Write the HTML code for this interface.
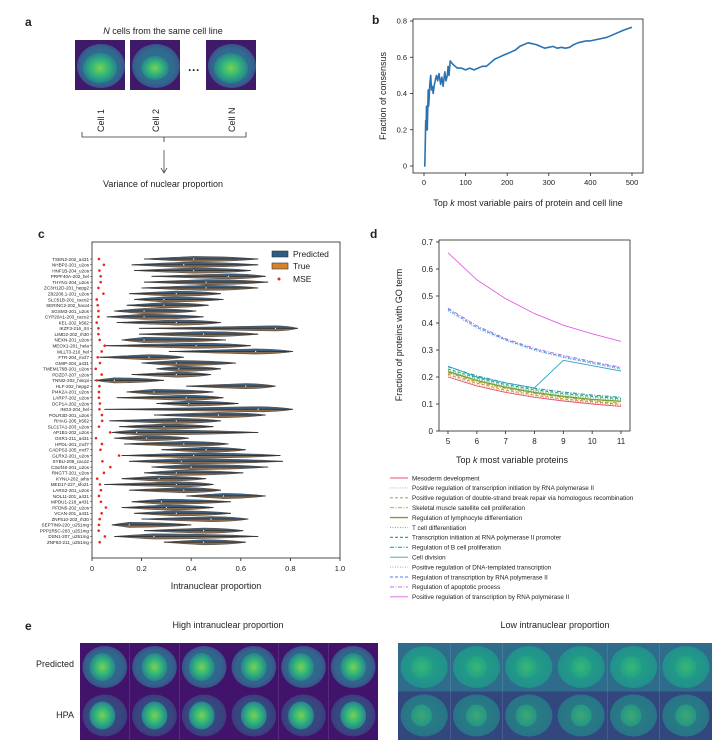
<!DOCTYPE html>
<html><head><meta charset="utf-8"><style>
body{margin:0;background:#fff;width:728px;height:745px;overflow:hidden;font-family:"Liberation Sans",sans-serif;}
svg{position:absolute;left:0;top:0}
text{font-family:"Liberation Sans",sans-serif;fill:#222}
</style></head><body>
<svg id="s" width="728" height="745" viewBox="0 0 728 745">
<defs>
<radialGradient id="nucH" cx="50%" cy="50%" r="50%"><stop offset="0" stop-color="#7ad151"/><stop offset="0.5" stop-color="#35b779"/><stop offset="1" stop-color="#26828e"/></radialGradient>
<radialGradient id="cytH" cx="50%" cy="50%" r="50%"><stop offset="0" stop-color="#2a788e"/><stop offset="0.8" stop-color="#31688e"/><stop offset="1" stop-color="#3b528b"/></radialGradient>
<radialGradient id="nucL" cx="50%" cy="50%" r="50%"><stop offset="0" stop-color="#4ac16d"/><stop offset="1" stop-color="#22a884"/></radialGradient>
<radialGradient id="cytL" cx="50%" cy="50%" r="50%"><stop offset="0" stop-color="#22a884"/><stop offset="1" stop-color="#21918c"/></radialGradient>
</defs>
<g id="pa"></g>
<g id="pb"></g>
<g id="pc"></g>
<g id="pd"></g>
<g id="pe"></g>
</svg>
<script>
// ---------- data ----------
const bK=[0,2,3,4,5,6,7,8,10,11,12,14,16,18,20,22,25,28,30,33,36,40,43,46,50,53,56,58,60,63,66,70,75,80,90,100,110,120,130,140,150,160,170,180,190,200,210,220,230,240,250,260,270,280,290,300,310,320,330,340,350,360,370,380,390,400,420,440,460,480,500];
const bV=[0,0,0.1,0.25,0.2,0.33,0.25,0.2,0.42,0.33,0.36,0.45,0.5,0.42,0.44,0.40,0.45,0.48,0.5,0.47,0.51,0.45,0.49,0.44,0.52,0.47,0.5,0.55,0.5,0.58,0.57,0.56,0.55,0.54,0.54,0.53,0.54,0.53,0.54,0.55,0.55,0.57,0.59,0.6,0.61,0.62,0.63,0.64,0.66,0.67,0.68,0.675,0.67,0.66,0.65,0.655,0.66,0.65,0.655,0.65,0.655,0.67,0.68,0.685,0.69,0.69,0.70,0.71,0.73,0.75,0.765];

const cLabels=["TSEN2-202_a431","NHBP2-201_u2os","HNF1B-204_u2os","PRPF40A-202_hel","THYN1-204_u2os","ZC3H12D-201_hepg2","Z82206.1-201_u2os","SLC51B-201_caco2","SERINC2-202_hacat","SGSM3-201_u2os","CYP20A1-203_caco2","KEL-202_k562","IKZF3-216_rt4","LIMD2-202_rh30","NEXN-201_u2os","MEOX1-201_hela","MLLT3-210_hel","FTR-204_mcf7","GMIP-204_a431","TMEM176B-201_u2os","PDZD7-207_u2os","TNNI2-202_hiscpi","HLF-202_hepg2","PI4K2A-201_u2os","LARP7-202_u2os","DCP1A-202_u2os","ING3-204_hel","POLR3D-201_u2os","RHAG-205_k562","SLC17A1-203_u2os","AP1B1-202_u2os","OXR1-211_a431","HPDL-201_mcf7","CADPS2-205_mcf7","GLRX2-201_u2os","SYBU-209_caco2","C3orf40-201_u2os","RNGTT-201_u2os","KYNU-202_aihs","MED17-227_sfo21","LARS2-201_u2os","NOL11-201_a431","MPDU1-218_a431","PFDN5-202_u2os","VCAN-201_a431","ZNF510-203_rh30","SEPTIN9-220_u251mg","PPP2R5C-203_u251mg","DSN1-207_u251mg","ZNF83-211_u251mg"];
const cLo=[0.21,0.16,0.17,0.24,0.21,0.2,0.15,0.17,0.14,0.09,0.06,0.1,0.19,0.19,0.12,0.05,0.31,0.03,0.2,0.26,0.16,0.01,0.38,0.14,0.1,0.26,0.05,0.25,0.07,0.11,0.08,0.09,0.13,0.28,0.12,0.15,0.24,0.21,0.12,0.05,0.15,0.38,0.16,0.12,0.17,0.2,0.08,0.21,0.09,0.29];
const cHi=[0.67,0.67,0.64,0.70,0.71,0.67,0.52,0.53,0.47,0.42,0.45,0.52,0.83,0.67,0.54,0.64,0.81,0.37,0.58,0.52,0.48,0.29,0.74,0.49,0.53,0.59,0.81,0.70,0.52,0.49,0.67,0.39,0.55,0.62,0.76,0.77,0.71,0.61,0.46,0.49,0.52,0.70,0.56,0.49,0.56,0.63,0.40,0.61,0.67,0.62];
const cMed=[0.41,0.37,0.41,0.55,0.46,0.46,0.34,0.29,0.29,0.21,0.21,0.34,0.74,0.45,0.21,0.42,0.66,0.23,0.34,0.35,0.34,0.09,0.62,0.25,0.38,0.39,0.67,0.51,0.34,0.29,0.18,0.22,0.37,0.46,0.41,0.36,0.40,0.34,0.27,0.34,0.37,0.53,0.28,0.30,0.34,0.48,0.15,0.45,0.25,0.45];
const cMse=[0.028,0.048,0.03,0.035,0.035,0.026,0.046,0.019,0.023,0.026,0.026,0.019,0.026,0.026,0.031,0.051,0.039,0.023,0.032,0.015,0.039,0.019,0.03,0.028,0.028,0.032,0.03,0.04,0.041,0.028,0.073,0.016,0.04,0.034,0.109,0.042,0.074,0.048,0.021,0.032,0.036,0.028,0.036,0.056,0.039,0.031,0.028,0.027,0.052,0.031];

const dK=[5,6,7,8,9,10,11];
const dNames=["Mesoderm development","Positive regulation of transcription initiation by RNA polymerase II","Positive regulation of double-strand break repair via homologous recombination","Skeletal muscle satellite cell proliferation","Regulation of lymphocyte differentiation","T cell differentiation","Transcription initiation at RNA polymerase II promoter","Regulation of B cell proliferation","Cell division","Positive regulation of DNA-templated transcription","Regulation of transcription by RNA polymerase II","Regulation of apoptotic process","Positive regulation of transcription by RNA polymerase II"];
const dS0=[0.20,0.167,0.143,0.125,0.111,0.10,0.091];
const dS1=[0.205,0.172,0.147,0.129,0.115,0.104,0.095];
const dS2=[0.21,0.177,0.152,0.133,0.119,0.108,0.099];
const dS3=[0.215,0.182,0.157,0.138,0.124,0.112,0.103];
const dS4=[0.22,0.187,0.162,0.143,0.128,0.117,0.11];
const dS5=[0.225,0.192,0.167,0.148,0.134,0.123,0.115];
const dS6=[0.23,0.197,0.172,0.153,0.139,0.128,0.12];
const dS7=[0.238,0.204,0.178,0.158,0.144,0.133,0.125];
const dS8=[0.24,0.2,0.178,0.16,0.262,0.242,0.222];
const dS9=[0.445,0.38,0.335,0.298,0.272,0.25,0.228];
const dS10=[0.45,0.385,0.338,0.302,0.275,0.253,0.232];
const dS11=[0.455,0.39,0.342,0.306,0.28,0.257,0.236];
const dS12=[0.66,0.56,0.49,0.435,0.392,0.36,0.332];

// ---------- helpers ----------
const NS="http://www.w3.org/2000/svg";
function mk(tag,attrs,parent,txt){const e=document.createElementNS(NS,tag);for(const k in attrs)e.setAttribute(k,attrs[k]);if(txt!==undefined)e.textContent=txt;parent.appendChild(e);return e;}
const G=id=>document.getElementById(id);

// ---------- panel a ----------
(function(){
const g=G('pa');
let t=mk('text',{x:25,y:26,'font-size':12,'font-weight':'bold'},g,'a');

t=mk('text',{x:163,y:34,'font-size':9,'text-anchor':'middle'},g);

t.innerHTML='<tspan font-style="italic">N</tspan> cells from the same cell line';
const xs=[75,130,206];
xs.forEach((x,i)=>{
 const c=mk('g',{},g);
 
 mk('rect',{x:x,y:40,width:50,height:50,fill:'#3e1a68'},c);
 mk('ellipse',{cx:x+26,cy:66,rx:24,ry:22,fill:'url(#cytH)'},c);
 mk('ellipse',{cx:x+25,cy:68,rx:17-(i==1?3:0),ry:15-(i==1?3:0),fill:'url(#nucH)'},c);
 const lb=mk('text',{transform:`translate(${x+29},${132}) rotate(-90)`,'font-size':9},g,['Cell 1','Cell 2','Cell N'][i]);
 
});
mk('text',{x:194,y:74,'font-size':12,'text-anchor':'middle','font-weight':'bold'},g,'···');
mk('path',{d:'M82,132 V137 H246 V132 M164,137 V142',stroke:'#333','stroke-width':0.8,fill:'none'},g);
mk('path',{d:'M164,150 V172 M161,168 L164,173 L167,168',stroke:'#445','stroke-width':0.8,fill:'none'},g);
t=mk('text',{x:163,y:187,'font-size':9,'text-anchor':'middle'},g,'Variance of nuclear proportion');

})();

// ---------- panel b ----------
(function(){
const g=G('pb');
const L=413,R=643,T=19,B=173;
const X=v=>424+(v/500)*(632-424);
const Y=v=>166-(v/0.8)*(166-21);
let t=mk('text',{x:372,y:24,'font-size':12,'font-weight':'bold'},g,'b');

const ax=mk('rect',{x:L,y:T,width:R-L,height:B-T,fill:'none',stroke:'#222','stroke-width':0.8},g);

[0,100,200,300,400,500].forEach(v=>{mk('line',{x1:X(v),x2:X(v),y1:B,y2:B+3,stroke:'#222','stroke-width':0.8},g);
 const tl=mk('text',{x:X(v),y:B+12,'font-size':7.5,'text-anchor':'middle'},g,String(v));});
[0,0.2,0.4,0.6,0.8].forEach(v=>{mk('line',{x1:L,x2:L-3,y1:Y(v),y2:Y(v),stroke:'#222','stroke-width':0.8},g);
 const tl=mk('text',{x:L-6,y:Y(v)+2.5,'font-size':7.5,'text-anchor':'end'},g,v===0?'0':String(v));});
let d='';bK.forEach((k,i)=>{d+=(i?'L':'M')+X(k).toFixed(1)+','+Y(bV[i]).toFixed(1);});
const ln=mk('path',{d:d,stroke:'#2a72b0','stroke-width':1.6,fill:'none','stroke-linejoin':'round'},g);

t=mk('text',{x:528,y:206,'font-size':9,'text-anchor':'middle'},g);t.innerHTML='Top <tspan font-style="italic">k</tspan> most variable pairs of protein and cell line';

t=mk('text',{transform:'translate(386,96) rotate(-90)','font-size':9,'text-anchor':'middle'},g,'Fraction of consensus');

})();

// ---------- panel c ----------
(function(){
const g=G('pc');
const L=92,R=340,T=242,B=558;
const X=v=>L+v*(R-L);
const Y=i=>259+i*5.78;
let t=mk('text',{x:38,y:238,'font-size':12,'font-weight':'bold'},g,'c');

const fr=mk('rect',{x:L,y:T,width:R-L,height:B-T,fill:'none',stroke:'#222','stroke-width':0.8},g);

[0,0.2,0.4,0.6,0.8,1.0].forEach(v=>{mk('line',{x1:X(v),x2:X(v),y1:B,y2:B+3,stroke:'#222','stroke-width':0.8},g);
 const tl=mk('text',{x:X(v),y:B+13,'font-size':7.5,'text-anchor':'middle'},g,v===0?'0':v.toFixed(1));});
cLabels.forEach((lab,i)=>{
 const y=Y(i);
 mk('line',{x1:L,x2:L-2,y1:y,y2:y,stroke:'#222','stroke-width':0.5},g);
 const tl=mk('text',{x:L-3,y:y+1.8,'font-size':4.6,'text-anchor':'end',fill:'#1a3a6a'},g,lab);
 
 const v=mk('g',{},g);
 
 const a=X(cLo[i]),b=X(cHi[i]),m=X(cMed[i]);
 const q1=a+(m-a)*0.35,q3=m+(b-m)*0.6;
 mk('path',{d:`M${a},${y} Q${q1},${y-1.2} ${m},${y-2.6} Q${q3},${y-2.4} ${b},${y} Z`,fill:'#3c5f80',stroke:'#555','stroke-width':0.6},v);
 mk('path',{d:`M${a},${y} Q${q1},${y+1.2} ${m},${y+2.6} Q${q3},${y+2.4} ${b},${y} Z`,fill:'#8a6a4a',stroke:'#555','stroke-width':0.6},v);
 mk('line',{x1:a,x2:b,y1:y,y2:y,stroke:'#333','stroke-width':0.9},v);
 mk('circle',{cx:m,cy:y,r:0.6,fill:'#fff'},v);
 const dot=mk('circle',{cx:X(cMse[i]),cy:y,r:1.3,fill:'#e8281e'},g);
 
});
// legend
const lg=mk('g',{},g);
mk('rect',{x:272,y:251,width:16,height:6,fill:'#2f5b84',stroke:'#333','stroke-width':0.6},lg);
mk('text',{x:293,y:257,'font-size':8.5},lg,'Predicted');
mk('rect',{x:272,y:263,width:16,height:6,fill:'#d8822c',stroke:'#333','stroke-width':0.6},lg);
mk('text',{x:293,y:269,'font-size':8.5},lg,'True');
mk('circle',{cx:279,cy:279,r:1.5,fill:'#e8281e'},lg);
mk('text',{x:293,y:282,'font-size':8.5},lg,'MSE');
t=mk('text',{x:216,y:589,'font-size':9,'text-anchor':'middle'},g,'Intranuclear proportion');

})();

// ---------- panel d ----------
(function(){
const g=G('pd');
const L=439,R=630,T=240,B=431;
const X=k=>448+(k-5)/6*(621-448);
const Y=v=>431-(v/0.7)*(431-242);
let t=mk('text',{x:370,y:238,'font-size':12,'font-weight':'bold'},g,'d');

const fr=mk('rect',{x:L,y:T,width:R-L,height:B-T,fill:'none',stroke:'#222','stroke-width':0.8},g);

dK.forEach(k=>{mk('line',{x1:X(k),x2:X(k),y1:B,y2:B+3,stroke:'#222','stroke-width':0.8},g);
 const tl=mk('text',{x:X(k),y:B+13,'font-size':8,'text-anchor':'middle'},g,String(k));});
[0,0.1,0.2,0.3,0.4,0.5,0.6,0.7].forEach(v=>{mk('line',{x1:L,x2:L-3,y1:Y(v),y2:Y(v),stroke:'#222','stroke-width':0.8},g);
 const tl=mk('text',{x:L-6,y:Y(v)+3,'font-size':8,'text-anchor':'end'},g,v===0?'0':v.toFixed(1));});
const series=[dS0,dS1,dS2,dS3,dS4,dS5,dS6,dS7,dS8,dS9,dS10,dS11,dS12];
const cols=['#e8506a','#e8906a','#c8801a','#a8a040','#7aa030','#70c070','#30a890','#30a0a0','#2aa0c0','#50b0e0','#5080e0','#a070e0','#e060e0'];
const dash=['','1,1.5','3,2','4,1.5,1,1.5','','1,1.5','3,2','4,1.5,1,1.5','','1,1.5','3,2','4,1.5,1,1.5',''];
const wid=[0.9,0.9,0.9,0.9,1.4,1.2,1.2,1.2,0.9,0.9,0.9,0.9,0.9];
series.forEach((s,j)=>{
 let d='';dK.forEach((k,i)=>{d+=(i?'L':'M')+X(k).toFixed(1)+','+Y(s[i]).toFixed(1);});
 const p=mk('path',{d:d,stroke:cols[j],'stroke-width':wid[j],fill:'none','stroke-dasharray':dash[j]},g);
 
 const ly=478+j*9.9;
 const le=mk('g',{},g);
 mk('line',{x1:390,x2:408,y1:ly,y2:ly,stroke:cols[j],'stroke-width':wid[j],'stroke-dasharray':dash[j]},le);
 mk('text',{x:412,y:ly+2.3,'font-size':6.3,fill:'#333'},le,dNames[j]);
});
t=mk('text',{x:512,y:463,'font-size':9,'text-anchor':'middle'},g);t.innerHTML='Top <tspan font-style="italic">k</tspan> most variable proteins';

t=mk('text',{transform:'translate(402,335) rotate(-90)','font-size':9,'text-anchor':'middle'},g,'Fraction of proteins with GO term');

})();

// ---------- panel e ----------
(function(){
const g=G('pe');
let t=mk('text',{x:25,y:630,'font-size':12,'font-weight':'bold'},g,'e');

t=mk('text',{x:228,y:628,'font-size':9,'text-anchor':'middle'},g,'High intranuclear proportion');

t=mk('text',{x:555,y:628,'font-size':9,'text-anchor':'middle'},g,'Low intranuclear proportion');

t=mk('text',{x:74,y:667,'font-size':9,'text-anchor':'end'},g,'Predicted');

t=mk('text',{x:74,y:718,'font-size':9,'text-anchor':'end'},g,'HPA');

function grid(x0,x1,high){
 const w=(x1-x0)/6;
 for(let r=0;r<2;r++)for(let c=0;c<6;c++){
  const x=x0+c*w,y=643+r*48.5;
  const tile=mk('g',{},g);
  
  mk('rect',{x:x,y:y,width:w,height:48.5,fill:high?'#42136a':(r?'#33477f':'#2f6b8a')},tile);
  mk('ellipse',{cx:x+w*0.5,cy:y+24,rx:w*0.45,ry:21,fill:high?'url(#cytH)':'url(#cytL)','fill-opacity':r?0.6:0.95},tile);
  mk('ellipse',{cx:x+w*(0.45+0.05*(c%2)),cy:y+24,rx:w*(high?0.26:0.2),ry:high?14:11,fill:high?'url(#nucH)':'url(#nucL)','fill-opacity':high?1:0.6},tile);
 }
}
grid(80,378,true);grid(398,712,false);
})();
</script>
</body></html>
